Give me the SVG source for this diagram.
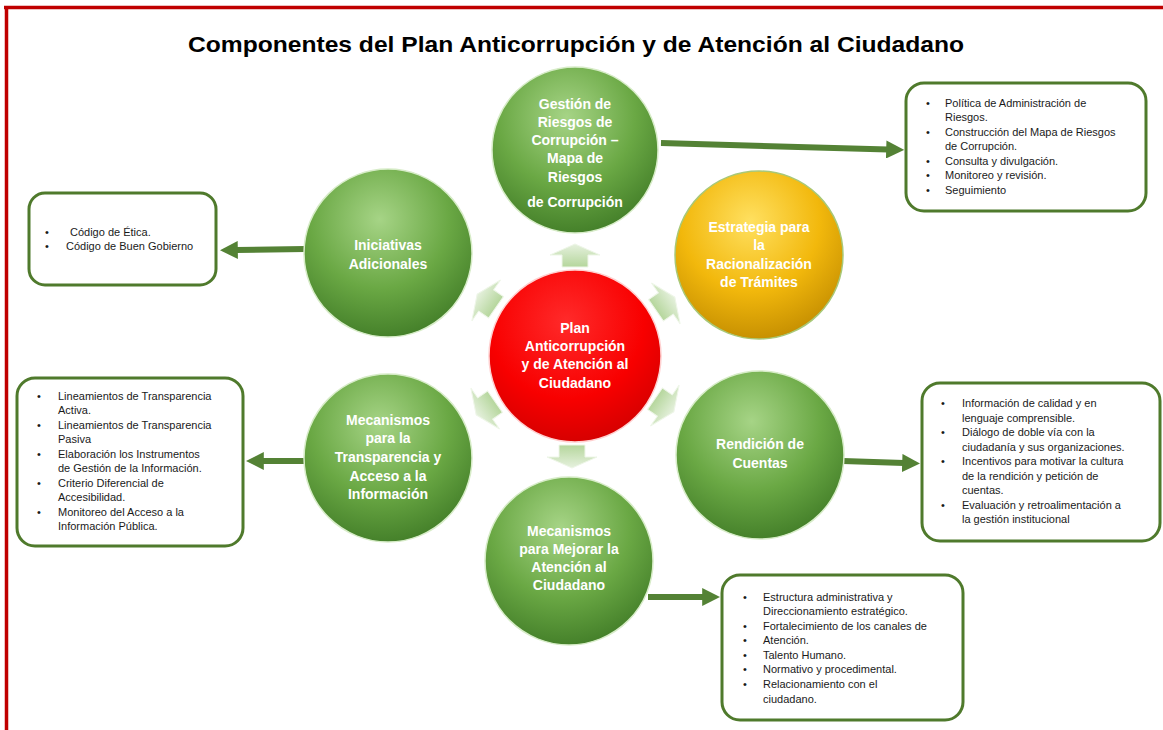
<svg xmlns="http://www.w3.org/2000/svg" width="1163" height="730" viewBox="0 0 1163 730">
<defs>
<style>
.title{font-family:"Liberation Sans",Arial,sans-serif;font-weight:bold;font-size:22px;fill:#000}
.ct{font-family:"Liberation Sans",Arial,sans-serif;font-weight:bold;font-size:14px;fill:#fff;text-anchor:middle}
.bt{font-family:"Liberation Sans",Arial,sans-serif;font-size:11px;fill:#1a1a1a}
.box{fill:#fff;stroke:#4f7a2c;stroke-width:3}
.conn{stroke:#548235;stroke-width:6;fill:none;marker-end:url(#ah)}
.sm{fill:url(#gs);stroke:#eef6e8;stroke-width:1}
</style>
<radialGradient id="gg" cx="0.45" cy="0.3" r="0.75">
<stop offset="0" stop-color="#a6d486"/>
<stop offset="0.55" stop-color="#6aa844"/>
<stop offset="1" stop-color="#3f7a26"/>
</radialGradient>
<radialGradient id="gy" cx="0.45" cy="0.3" r="0.75">
<stop offset="0" stop-color="#ffe060"/>
<stop offset="0.55" stop-color="#f2b80c"/>
<stop offset="1" stop-color="#c08a00"/>
</radialGradient>
<radialGradient id="gr" cx="0.45" cy="0.3" r="0.75">
<stop offset="0" stop-color="#ff2a2a"/>
<stop offset="0.6" stop-color="#f80000"/>
<stop offset="1" stop-color="#d00000"/>
</radialGradient>
<linearGradient id="gs" x1="0" y1="0" x2="0" y2="1">
<stop offset="0" stop-color="#e6f1de"/>
<stop offset="1" stop-color="#b5d69c"/>
</linearGradient>
<marker id="ah" viewBox="0 0 10 10" markerWidth="3" markerHeight="3" refX="1" refY="5" orient="auto" markerUnits="strokeWidth">
<path d="M0,0 L10,5 L0,10 z" fill="#548235"/>
</marker>
<polygon id="sa" points="0,-12 25,-1 13,-1 13,11 -13,11 -13,-1 -25,-1"/>
</defs>
<rect x="0" y="0" width="1163" height="730" fill="#fff"/>
<g id="frame" stroke="#c00000" stroke-width="3.5" fill="none">
<line x1="4" y1="7.5" x2="1163" y2="7.5"/>
<line x1="6.5" y1="6" x2="6.5" y2="730"/>
</g>
<text class="title" x="188" y="52" textLength="776" lengthAdjust="spacingAndGlyphs">Componentes del Plan Anticorrupción y de Atención al Ciudadano</text>

<g id="connectors">
<line class="conn" x1="661" y1="143" x2="888" y2="149.5"/>
<line class="conn" x1="305" y1="249" x2="236" y2="250"/>
<line class="conn" x1="304" y1="461" x2="262" y2="461"/>
<line class="conn" x1="843" y1="461" x2="904" y2="463"/>
<line class="conn" x1="648" y1="597" x2="704" y2="597"/>
<use href="#sa" class="sm" transform="translate(575,256)"/>
<use href="#sa" class="sm" transform="translate(487,301) rotate(-55)"/>
<use href="#sa" class="sm" transform="translate(665,304) rotate(55)"/>
<use href="#sa" class="sm" transform="translate(664,405) rotate(125)"/>
<use href="#sa" class="sm" transform="translate(486,408) rotate(-125)"/>
<use href="#sa" class="sm" transform="translate(572,456) rotate(180)"/>
</g>

<g id="n-gestion">
<circle cx="575" cy="150" r="83" fill="url(#gg)" stroke="#d7ecc8" stroke-width="1.5"/>
<text class="ct" x="575" y="109">Gestión de</text>
<text class="ct" x="575" y="127">Riesgos de</text>
<text class="ct" x="575" y="145">Corrupción –</text>
<text class="ct" x="575" y="163">Mapa de</text>
<text class="ct" x="575" y="182">Riesgos</text>
<text class="ct" x="575" y="207">de Corrupción</text>
</g>
<g id="n-iniciativas">
<circle cx="388" cy="253" r="84" fill="url(#gg)" stroke="#d7ecc8" stroke-width="1.5"/>
<text class="ct" x="388" y="250">Iniciativas</text>
<text class="ct" x="388" y="269">Adicionales</text>
</g>
<g id="n-estrategia">
<circle cx="759" cy="255" r="84" fill="url(#gy)" stroke="#a8c878" stroke-width="1.5"/>
<text class="ct" x="759" y="232">Estrategia para</text>
<text class="ct" x="759" y="250">la</text>
<text class="ct" x="759" y="269">Racionalización</text>
<text class="ct" x="759" y="287">de Trámites</text>
</g>
<g id="n-plan">
<circle cx="575" cy="356" r="86" fill="url(#gr)" stroke="#ffd0d0" stroke-width="1.5"/>
<text class="ct" x="575" y="333">Plan</text>
<text class="ct" x="575" y="351">Anticorrupción</text>
<text class="ct" x="575" y="369">y de Atención al</text>
<text class="ct" x="575" y="388">Ciudadano</text>
</g>
<g id="n-transparencia">
<circle cx="388" cy="458" r="84" fill="url(#gg)" stroke="#d7ecc8" stroke-width="1.5"/>
<text class="ct" x="388" y="425">Mecanismos</text>
<text class="ct" x="388" y="443">para la</text>
<text class="ct" x="388" y="462">Transparencia y</text>
<text class="ct" x="388" y="481">Acceso a la</text>
<text class="ct" x="388" y="499">Información</text>
</g>
<g id="n-rendicion">
<circle cx="760" cy="455" r="84" fill="url(#gg)" stroke="#d7ecc8" stroke-width="1.5"/>
<text class="ct" x="760" y="449">Rendición de</text>
<text class="ct" x="760" y="468">Cuentas</text>
</g>
<g id="n-atencion">
<circle cx="569" cy="561" r="84" fill="url(#gg)" stroke="#d7ecc8" stroke-width="1.5"/>
<text class="ct" x="569" y="536">Mecanismos</text>
<text class="ct" x="569" y="554">para Mejorar la</text>
<text class="ct" x="569" y="572">Atención al</text>
<text class="ct" x="569" y="590">Ciudadano</text>
</g>

<g id="b-gestion">
<rect class="box" x="906" y="83" width="240" height="128" rx="18"/>
<g class="bt">
<text x="926" y="107">•</text><text x="945" y="107">Política de Administración de</text>
<text x="945" y="121">Riesgos.</text>
<text x="926" y="136">•</text><text x="945" y="136">Construcción del Mapa de Riesgos</text>
<text x="945" y="150">de Corrupción.</text>
<text x="926" y="165">•</text><text x="945" y="165">Consulta y divulgación.</text>
<text x="926" y="179">•</text><text x="945" y="179">Monitoreo y revisión.</text>
<text x="926" y="194">•</text><text x="945" y="194">Seguimiento</text>
</g>
</g>
<g id="b-iniciativas">
<rect class="box" x="29" y="193" width="187" height="92" rx="16"/>
<g class="bt">
<text x="45" y="236">•</text><text x="70" y="236">Código de Ética.</text>
<text x="45" y="250">•</text><text x="66" y="250">Código de Buen Gobierno</text>
</g>
</g>
<g id="b-transparencia">
<rect class="box" x="17" y="378" width="226" height="168" rx="18"/>
<g class="bt">
<text x="37" y="400">•</text><text x="58" y="400">Lineamientos de Transparencia</text>
<text x="58" y="414">Activa.</text>
<text x="37" y="429">•</text><text x="58" y="429">Lineamientos de Transparencia</text>
<text x="58" y="443">Pasiva</text>
<text x="37" y="458">•</text><text x="58" y="458">Elaboración los Instrumentos</text>
<text x="58" y="472">de Gestión de la Información.</text>
<text x="37" y="487">•</text><text x="58" y="487">Criterio Diferencial de</text>
<text x="58" y="501">Accesibilidad.</text>
<text x="37" y="516">•</text><text x="58" y="516">Monitoreo del Acceso a la</text>
<text x="58" y="530">Información Pública.</text>
</g>
</g>
<g id="b-rendicion">
<rect class="box" x="922" y="383" width="238" height="158" rx="18"/>
<g class="bt">
<text x="941" y="407">•</text><text x="962" y="407">Información de calidad y en</text>
<text x="962" y="422">lenguaje comprensible.</text>
<text x="941" y="436">•</text><text x="962" y="436">Diálogo de doble vía con la</text>
<text x="962" y="451">ciudadanía y sus organizaciones.</text>
<text x="941" y="465">•</text><text x="962" y="465">Incentivos para motivar la cultura</text>
<text x="962" y="480">de la rendición y petición de</text>
<text x="962" y="494">cuentas.</text>
<text x="941" y="509">•</text><text x="962" y="509">Evaluación y retroalimentación a</text>
<text x="962" y="523">la gestión institucional</text>
</g>
</g>
<g id="b-atencion">
<rect class="box" x="722" y="575" width="241" height="145" rx="18"/>
<g class="bt">
<text x="743" y="601">•</text><text x="763" y="601">Estructura administrativa y</text>
<text x="763" y="615">Direccionamiento estratégico.</text>
<text x="743" y="630">•</text><text x="763" y="630">Fortalecimiento de los canales de</text>
<text x="743" y="644">•</text><text x="763" y="644">Atención.</text>
<text x="743" y="659">•</text><text x="763" y="659">Talento Humano.</text>
<text x="743" y="673">•</text><text x="763" y="673">Normativo y procedimental.</text>
<text x="743" y="688">•</text><text x="763" y="688">Relacionamiento con el</text>
<text x="763" y="703">ciudadano.</text>
</g>
</g>
</svg>
